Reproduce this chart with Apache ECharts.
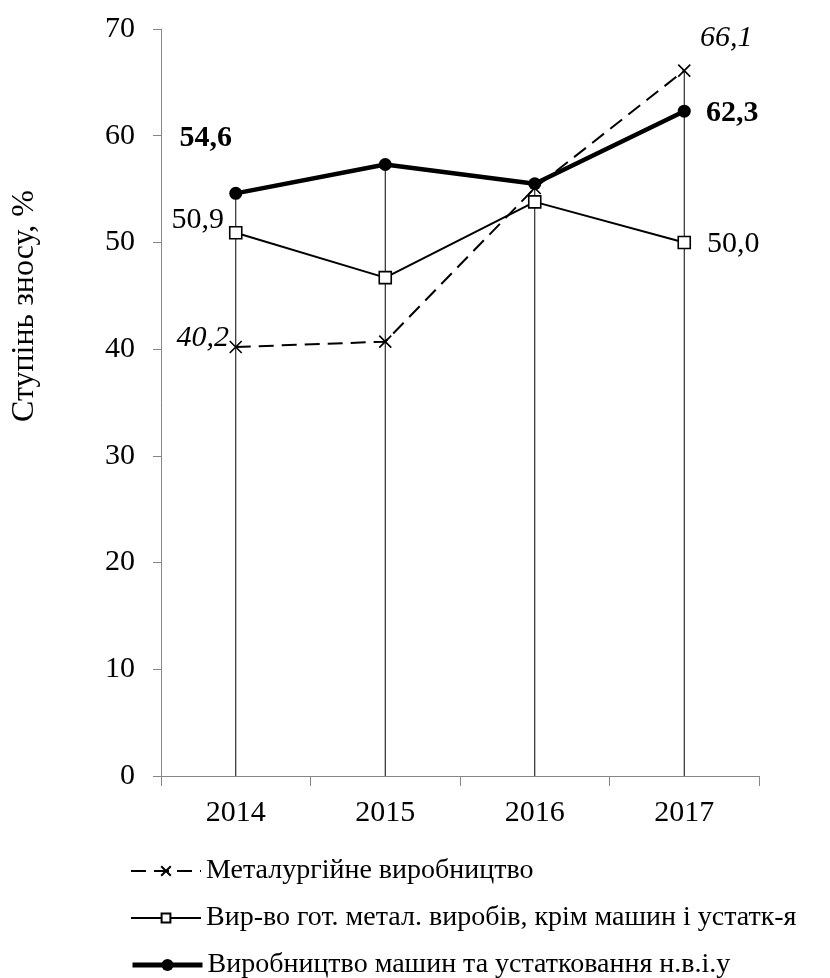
<!DOCTYPE html>
<html>
<head>
<meta charset="utf-8">
<script src="https://cdn.jsdelivr.net/npm/echarts@6/dist/echarts.min.js"></script>
<style>
  html, body { margin: 0; padding: 0; background: #fff; }
  #chart { width: 830px; height: 978px; }
</style>
</head>
<body>
<div id="chart"></div>
<script>
// Years on the category axis
const years = ['2014', '2015', '2016', '2017'];
// Degree of wear, %, by industry
const metallurgy = [40.2, 40.7, 55.1, 66.1];
const metalProducts = [50.9, 46.7, 53.8, 50.0];
const machinery = [54.6, 57.3, 55.5, 62.3];
const seriesNames = [
  'Металургійне виробництво',
  'Вир-во гот. метал. виробів, крім машин і устатк-я',
  'Виробництво машин та устатковання н.в.і.у'
];
const yTicks = { min: 0, max: 70, interval: 10 };
const axisTitle = 'Ступінь зносу, %';

const FONT = '"Liberation Serif", "Times New Roman", serif';
const fmt = v => v.toFixed(1).replace('.', ',');

// Drop lines run from the highest point in each year down to the axis
const dropTops = years.map((_, i) => Math.max(metallurgy[i], metalProducts[i], machinery[i]));

// Only the first and last points carry value labels
function withEndLabels(values, style, offsets) {
  return values.map((v, i) => {
    if (i === 0 || i === values.length - 1) {
      const off = i === 0 ? offsets[0] : offsets[1];
      return {
        value: v,
        label: {
          show: true,
          position: 'inside',
          offset: off,
          formatter: p => fmt(p.value),
          fontFamily: FONT,
          fontSize: 30,
          color: '#000',
          fontStyle: style.fontStyle || 'normal',
          fontWeight: style.fontWeight || 'normal'
        }
      };
    }
    return v;
  });
}

// One legend row per series, stacked under the plot
const legendIconHeights = [12, 11, 15];
const legendLineWidths = [2, 2, 5];
const legendRows = seriesNames.map((name, i) => ({
  orient: 'vertical',
  left: 130,
  top: 857 + i * 47,
  padding: 0,
  itemWidth: 70,
  itemHeight: legendIconHeights[i],
  lineStyle: { width: legendLineWidths[i] },
  data: [name],
  textStyle: { fontFamily: FONT, fontSize: 28, color: '#000' }
}));

const chart = echarts.init(document.getElementById('chart'), null, { renderer: 'canvas' });

chart.setOption({
  animation: false,
  backgroundColor: '#fff',
  grid: { left: 161, right: 71, top: 29, bottom: 202, containLabel: false },
  xAxis: {
    type: 'category',
    data: years,
    boundaryGap: true,
    axisLine: { lineStyle: { color: '#868686', width: 1 } },
    axisTick: { show: true, inside: false, length: 10, alignWithLabel: false, lineStyle: { color: '#868686' } },
    axisLabel: { fontFamily: FONT, fontSize: 30, color: '#000', margin: 22 },
    splitLine: { show: false }
  },
  yAxis: {
    type: 'value',
    min: yTicks.min,
    max: yTicks.max,
    interval: yTicks.interval,
    axisLine: { show: true, lineStyle: { color: '#868686', width: 1 } },
    axisTick: { show: true, inside: false, length: 8, lineStyle: { color: '#868686' } },
    axisLabel: { fontFamily: FONT, fontSize: 30, color: '#000', margin: 26 },
    splitLine: { show: false }
  },
  graphic: [{
    type: 'text',
    x: 25,
    y: 306,
    rotation: Math.PI / 2,
    style: {
      text: axisTitle,
      fontFamily: FONT,
      fontSize: 32,
      fill: '#000',
      align: 'center',
      verticalAlign: 'middle'
    }
  }],
  legend: legendRows,
  series: [
    {
      name: 'drop',
      type: 'bar',
      data: dropTops,
      barWidth: 1,
      silent: true,
      z: 1,
      itemStyle: { color: '#000' }
    },
    {
      name: seriesNames[0],
      type: 'line',
      z: 3,
      data: withEndLabels(metallurgy, { fontStyle: 'italic' }, [[-33, -9], [42, -33]]),
      symbol: 'path://M0,0L10,10M10,0L0,10',
      symbolSize: 12,
      lineStyle: { color: '#000', width: 2, type: [15, 8] },
      itemStyle: { color: '#000', borderColor: '#000', borderWidth: 1.6 }
    },
    {
      name: seriesNames[1],
      type: 'line',
      z: 4,
      data: withEndLabels(metalProducts, {}, [[-38, -13], [49, 2]]),
      symbol: 'rect',
      symbolSize: 12,
      lineStyle: { color: '#000', width: 2 },
      itemStyle: { color: '#fff', borderColor: '#000', borderWidth: 1.6 }
    },
    {
      name: seriesNames[2],
      type: 'line',
      z: 5,
      data: withEndLabels(machinery, { fontWeight: 'bold' }, [[-30, -55], [48, 2]]),
      symbol: 'circle',
      symbolSize: 13,
      lineStyle: { color: '#000', width: 4.5 },
      itemStyle: { color: '#000', borderColor: '#000', borderWidth: 0 }
    }
  ]
});
</script>
</body>
</html>
